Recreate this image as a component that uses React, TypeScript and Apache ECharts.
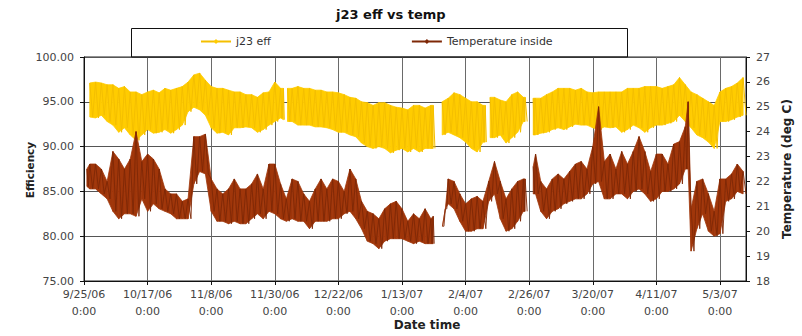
import React, { useEffect, useRef } from 'react';
import * as echarts from 'echarts';

// X positions are days elapsed since 9/25/06 0:00.
const dateTicks = ['9/25/06', '10/17/06', '11/8/06', '11/30/06', '12/22/06', '1/13/07', '2/4/07', '2/26/07', '3/20/07', '4/11/07', '5/3/07'];
const tickTime = '0:00';
const tickStepDays = 22;
const lastDay = 229;

// j23 efficiency (%): daily high / low readings, null where logging stopped.
const effDay = [
  2, 4, 6, 8, 10, 12, 14, 16, 18, 20,
  22, 24, 26, 28, 30, 32, 34, 36, 38, 40,
  42, 44, 46, 48, 50, 52, 54, 56, 58, 60,
  62, 64, 66, 68, 69, 69.6, 70.4, 72, 74, 76,
  78, 80, 82, 84, 86, 88, 90, 92, 94, 96,
  98, 100, 102, 104, 106, 108, 110, 112, 114, 116,
  118, 120, 120.8, 122, 123.9, 126, 128, 130, 132, 134,
  136, 138, 138.8, 139.6, 140.5, 142, 144, 146, 148, 150,
  152, 152.6, 154, 155.4, 156, 158, 160, 162, 164, 166,
  168, 170, 172, 174, 176, 178, 180, 182, 184, 186,
  188, 190, 192, 194, 196, 198, 200, 202, 204, 206,
  208, 210, 212, 214, 216, 218, 220, 222, 224, 226,
  228,
];
const effHigh = [
  97.1, 97.2, 97.1, 96.9, 96.9, 96.5, 96.7, 96.1, 96.1, 95.8,
  96.1, 96.3, 96.0, 96.5, 96.3, 96.5, 96.7, 97.2, 98.0, 98.2,
  97.4, 96.7, 96.5, 96.5, 96.3, 96.1, 96.1, 95.8, 95.8, 95.5,
  96.0, 96.1, 97.2, 96.5, 96.5, null, 96.5, 96.5, 96.7, 96.5,
  96.5, 96.3, 96.3, 96.1, 96.1, 96.0, 95.8, 95.5, 95.4, 95.0,
  94.9, 94.6, 94.9, 94.9, 94.6, 94.4, 94.3, 94.1, 94.6, 94.6,
  94.3, 94.6, 94.6, null, 95.0, 95.4, 96.0, 95.8, 95.4, 95.0,
  95.0, 94.6, 94.6, null, 95.5, 95.5, 95.2, 95.0, 95.8, 96.1,
  95.5, 95.5, null, 95.4, 95.4, 95.4, 95.8, 96.1, 96.5, 96.5,
  96.5, 96.3, 96.5, 96.1, 96.0, 96.1, 96.1, 96.1, 96.1, 96.1,
  96.5, 96.5, 96.5, 96.7, 96.7, 96.7, 96.5, 96.7, 96.9, 97.7,
  96.9, 96.1, 95.8, 95.4, 95.0, 94.6, 96.1, 96.5, 96.7, 97.1,
  97.7,
];
const effLow = [
  93.3, 93.2, 93.5, 92.8, 92.4, 91.6, 92.1, 91.3, 90.7, 91.3,
  91.9, 91.5, 91.6, 91.9, 91.5, 91.9, 92.4, 93.9, 94.4, 94.1,
  93.5, 92.1, 91.5, 91.6, 91.3, 92.1, 92.1, 92.2, 92.1, 91.6,
  91.9, 92.4, 92.8, 93.2, 93.0, null, 92.8, 92.8, 92.4, 92.4,
  92.4, 92.2, 92.2, 92.1, 91.9, 91.6, 91.6, 91.3, 91.1, 90.4,
  90.0, 89.8, 90.0, 89.8, 89.3, 89.6, 89.8, 89.4, 89.8, 89.4,
  89.8, 89.8, 89.8, null, 91.3, 91.6, 91.3, 91.0, 90.5, 89.8,
  89.4, 90.5, 90.5, null, 91.0, 91.0, 91.3, 90.4, 91.0, 91.6,
  92.8, 92.8, null, 91.3, 91.3, 91.5, 91.6, 91.9, 92.1, 91.9,
  92.2, 92.5, 92.4, 92.4, 92.1, 91.9, 92.2, 92.1, 92.2, 91.6,
  91.9, 92.4, 92.1, 91.6, 92.1, 92.4, 92.4, 92.6, 92.8, 93.5,
  92.8, 92.1, 91.3, 91.0, 90.5, 89.8, 92.8, 92.8, 93.0, 93.3,
  93.5,
];

// Inside temperature (deg C): daily high / low readings, null where logging stopped.
const tempDay = [
  1, 2, 4, 6, 8, 10, 12, 14, 16, 18,
  20, 22, 24, 26, 28, 30, 32, 34, 36, 38,
  40, 42, 44, 46, 48, 50, 52, 54, 56, 58,
  60, 62, 64, 66, 68, 70, 72, 74, 76, 78,
  80, 82, 84, 86, 88, 90, 92, 94, 96, 98,
  100, 102, 104, 106, 108, 110, 112, 114, 116, 118,
  120, 120.8, 121.5, 124, 125, 126, 128, 130, 132, 134,
  136, 138, 140, 142, 144, 146, 148, 150, 152, 152.6,
  154, 155.4, 156.2, 158, 160, 162, 164, 166, 168, 170,
  172, 174, 176, 178, 180, 182, 184, 186, 188, 190,
  192, 194, 196, 198, 200, 202, 204, 206, 208, 209,
  210, 212, 214, 216, 218, 220, 222, 224, 226, 228,
];
const tempHigh = [
  22.5, 22.7, 22.7, 22.5, 22.0, 23.2, 22.9, 22.5, 22.9, 24.0,
  22.8, 23.1, 22.9, 22.5, 21.7, 21.5, 21.5, 21.2, 21.3, 23.8,
  23.8, 23.9, 22.1, 21.7, 21.5, 21.7, 22.1, 21.7, 21.7, 21.9,
  22.3, 21.7, 22.7, 22.7, 21.9, 21.3, 22.1, 22.0, 21.5, 21.2,
  21.7, 22.1, 21.7, 22.1, 22.0, 21.6, 22.5, 22.1, 21.2, 20.8,
  20.7, 20.5, 20.9, 21.1, 21.2, 20.9, 20.4, 20.7, 20.5, 20.9,
  20.5, 20.6, null, 20.2, 20.9, 22.1, 22.0, 21.5, 21.1, 21.3,
  21.4, 21.2, 22.0, 22.8, 22.0, 21.3, 21.7, 22.0, 22.1, 22.1,
  null, 22.6, 23.1, 22.0, 21.7, 22.1, 22.3, 22.1, 22.4, 22.7,
  22.8, 22.5, 23.4, 25.0, 22.8, 23.1, 22.5, 23.2, 22.7, 23.2,
  23.8, 23.2, 22.4, 23.1, 23.1, 22.7, 23.5, 23.6, 24.2, 25.2,
  20.9, 22.0, 22.1, 21.5, 20.8, 22.1, 22.1, 22.3, 22.7, 22.4,
];
const tempLow = [
  21.8, 21.7, 21.7, 21.5, 21.3, 20.8, 20.5, 20.7, 20.7, 20.6,
  21.3, 20.8, 21.1, 20.9, 20.8, 20.7, 20.5, 20.5, 20.5, 21.9,
  22.4, 22.3, 20.8, 20.4, 20.4, 20.3, 20.4, 20.3, 20.3, 20.5,
  20.7, 20.5, 20.8, 20.7, 20.5, 20.4, 20.5, 20.4, 20.4, 20.1,
  20.4, 20.4, 20.4, 20.5, 20.5, 20.7, 20.8, 20.5, 20.1, 19.6,
  19.5, 19.3, 19.6, 19.7, 19.7, 19.7, 19.6, 19.5, 19.6, 19.5,
  19.5, 19.5, null, 20.2, 20.9, 21.1, 20.9, 20.4, 20.0, 20.0,
  20.1, 20.1, 21.2, 21.5, 20.5, 20.0, 20.1, 20.4, 20.8, 20.8,
  null, 21.5, 21.5, 20.8, 20.5, 20.8, 20.9, 21.1, 21.2, 21.3,
  21.3, 21.5, 21.9, 22.0, 21.3, 21.3, 21.5, 21.5, 21.3, 21.6,
  21.7, 21.5, 21.2, 21.3, 21.6, 21.6, 21.7, 21.9, 22.5, 22.5,
  19.2, 20.1, 20.7, 20.0, 19.8, 19.9, 21.2, 21.3, 21.6, 21.5,
];

const FONT = 'DejaVu Sans, Arial, sans-serif';

type Pt = [number, number | string];
type Vals = (number | null)[];

// Each reading's high, then its low half-way to the next reading.
function dailySwing(days: number[], hi: Vals, lo: Vals): Pt[] {
  const pts: Pt[] = [];
  days.forEach((d, i) => {
    const h = hi[i];
    const l = lo[i];
    if (h == null || l == null) {
      pts.push([d, '-']);
      return;
    }
    const next = i + 1 < days.length ? days[i + 1] : d + 2;
    const lowAt = next - d <= 2 ? (d + next) / 2 : d + 1;
    pts.push([d, h]);
    pts.push([lowAt, l]);
  });
  return pts;
}

// Filled envelope between the highs and lows, one quad per reading interval.
function bandSeries(days: number[], hi: Vals, lo: Vals, yAxisIndex: number, color: string, z: number) {
  return {
    type: 'custom',
    yAxisIndex,
    silent: true,
    clip: true,
    z,
    data: days.map((d, i) => [d, hi[i] == null ? 0 : hi[i], lo[i] == null ? 0 : lo[i]]),
    encode: { x: 0, y: [1, 2] },
    renderItem: (params: any, api: any) => {
      const i = params.dataIndex;
      if (i >= days.length - 1) return null;
      const h0 = hi[i];
      const l0 = lo[i];
      const h1 = hi[i + 1];
      const l1 = lo[i + 1];
      if (h0 == null || l0 == null || h1 == null || l1 == null) return null;
      const pts = [
        api.coord([days[i], h0]),
        api.coord([days[i + 1], h1]),
        api.coord([days[i + 1], l1]),
        api.coord([days[i], l0]),
      ];
      return {
        type: 'polygon',
        shape: { points: pts },
        style: { fill: color, stroke: color, lineWidth: 0.8 },
      };
    },
  };
}

function dateLabel(v: number): string {
  const idx = v / tickStepDays;
  if (!Number.isInteger(idx) || idx >= dateTicks.length) return '';
  return dateTicks[idx] + '\n' + tickTime;
}

const EFF_FILL = '#FFCC00';
const EFF_EDGE = '#F4BF00';
const TEMP_FILL = '#A0360A';
const TEMP_EDGE = '#7E2807';

export default function App() {
  const ref = useRef<HTMLDivElement | null>(null);

  useEffect(() => {
    if (!ref.current) return;
    const chart = echarts.init(ref.current, undefined, { renderer: 'svg' });

    const option: any = {
      animation: false,
      backgroundColor: '#ffffff',
      title: {
        text: 'j23 eff vs temp',
        left: 336,
        top: 8,
        padding: 0,
        textStyle: { fontFamily: FONT, fontSize: 13, fontWeight: 'bold', color: '#111' },
      },
      legend: {
        data: ['j23 eff', 'Temperature inside'],
        left: 200,
        top: 36,
        padding: 0,
        itemWidth: 30,
        itemHeight: 6,
        itemGap: 140,
        textStyle: { fontFamily: FONT, fontSize: 11, color: '#333' },
      },
      grid: {
        left: 84,
        right: 56,
        top: 57,
        bottom: 55,
        show: true,
        borderColor: '#222',
        borderWidth: 1,
        backgroundColor: 'transparent',
      },
      xAxis: {
        type: 'value',
        min: 0,
        max: lastDay,
        interval: tickStepDays,
        axisLine: { show: true, lineStyle: { color: '#111' } },
        axisTick: { show: true, inside: false, length: 4, lineStyle: { color: '#111' } },
        splitLine: { show: true, lineStyle: { color: '#6a6a6a', width: 1 } },
        axisLabel: {
          formatter: dateLabel,
          fontFamily: FONT,
          fontSize: 11,
          lineHeight: 17,
          margin: 5,
          color: '#444',
          showMaxLabel: false,
        },
      },
      yAxis: [
        {
          type: 'value',
          min: 75,
          max: 100,
          interval: 5,
          axisLine: { show: true, lineStyle: { color: '#111' } },
          axisTick: { show: true, inside: false, length: 4, lineStyle: { color: '#111' } },
          splitLine: { show: true, lineStyle: { color: '#555', width: 1 } },
          axisLabel: {
            formatter: (v: number) => v.toFixed(2),
            fontFamily: FONT,
            fontSize: 11,
            margin: 10,
            color: '#444',
          },
        },
        {
          type: 'value',
          min: 18,
          max: 27,
          interval: 1,
          position: 'right',
          axisLine: { show: true, lineStyle: { color: '#111' } },
          axisTick: { show: true, inside: false, length: 4, lineStyle: { color: '#111' } },
          splitLine: { show: false },
          axisLabel: { fontFamily: FONT, fontSize: 11, margin: 10, color: '#444' },
        },
      ],
      series: [
        bandSeries(effDay, effHigh, effLow, 0, EFF_FILL, 2),
        {
          name: 'j23 eff',
          type: 'line',
          yAxisIndex: 0,
          data: dailySwing(effDay, effHigh, effLow),
          symbol: 'diamond',
          symbolSize: 5,
          showSymbol: false,
          lineStyle: { color: EFF_EDGE, width: 1 },
          itemStyle: { color: EFF_FILL, borderColor: EFF_EDGE },
          z: 3,
        },
        bandSeries(tempDay, tempHigh, tempLow, 1, TEMP_FILL, 4),
        {
          name: 'Temperature inside',
          type: 'line',
          yAxisIndex: 1,
          data: dailySwing(tempDay, tempHigh, tempLow),
          symbol: 'diamond',
          symbolSize: 5,
          showSymbol: false,
          lineStyle: { color: TEMP_EDGE, width: 0.9 },
          itemStyle: { color: TEMP_EDGE, borderColor: '#4a1804' },
          z: 5,
        },
      ],
      graphic: [
        {
          type: 'rect',
          shape: { x: 131.5, y: 28.5, width: 496, height: 28.5 },
          style: { fill: 'none', stroke: '#111', lineWidth: 1 },
          z: 10,
        },
        {
          type: 'text',
          x: 30,
          y: 170,
          rotation: Math.PI / 2,
          style: {
            text: 'Efficiency',
            fontFamily: FONT,
            fontSize: 10.5,
            fontWeight: 'bold',
            fill: '#222',
            align: 'center',
            verticalAlign: 'middle',
          },
        },
        {
          type: 'text',
          x: 787,
          y: 169,
          rotation: Math.PI / 2,
          style: {
            text: 'Temperature (deg C)',
            fontFamily: FONT,
            fontSize: 12,
            fontWeight: 'bold',
            fill: '#222',
            align: 'center',
            verticalAlign: 'middle',
          },
        },
        {
          type: 'text',
          x: 427,
          y: 325,
          style: {
            text: 'Date time',
            fontFamily: FONT,
            fontSize: 12,
            fontWeight: 'bold',
            fill: '#222',
            align: 'center',
            verticalAlign: 'middle',
          },
        },
      ],
    };

    chart.setOption(option);
    return () => {
      chart.dispose();
    };
  }, []);

  return (
    <div
      ref={ref}
      style={{ position: 'absolute', left: 0, top: 0, width: 802, height: 336 }}
    />
  );
}
